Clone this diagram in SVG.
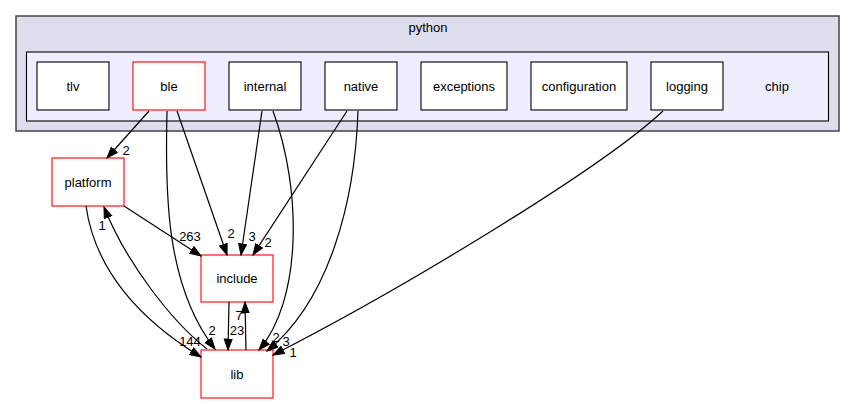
<svg xmlns="http://www.w3.org/2000/svg" width="856" height="404" viewBox="0 0 856 404">
<style>
text{font-family:"Liberation Sans",Arial,sans-serif;font-size:13px;fill:#000;}
.n{text-anchor:middle;}
.l{text-anchor:middle;}
.box{fill:#fff;stroke:#000;stroke-width:1.1;}
.red{fill:#fff;stroke:#ff0000;stroke-width:1.1;}
.e{fill:none;stroke:#000;stroke-width:1.2;marker-end:url(#ah);}
</style>
<defs>
<marker id="ah" markerUnits="userSpaceOnUse" markerWidth="13" markerHeight="10" refX="11.5" refY="4.5" orient="auto">
<path d="M0.5,0.5 L11.5,4.5 L0.5,8.5 z" fill="#000" stroke="#000" stroke-width="1"/>
</marker>
</defs>
<rect width="856" height="404" fill="#fff"/>
<g id="cluster_python">
<rect x="16" y="16" width="823" height="115" fill="#ddddee" stroke="#444" stroke-width="1.5"/>
<text class="n" x="428" y="32">python</text>
</g>
<g id="cluster_chip">
<rect x="26.5" y="52" width="802" height="69" fill="#eeeeff" stroke="#000" stroke-width="1.1"/>
<text class="n" x="777" y="91">chip</text>
</g>
<g id="tlv"><rect class="box" x="37" y="62" width="72" height="48"/><text class="n" x="73" y="91">tlv</text></g>
<g id="ble"><rect class="red" x="133" y="62" width="72" height="48"/><text class="n" x="169" y="91">ble</text></g>
<g id="internal"><rect class="box" x="229" y="62" width="72" height="48"/><text class="n" x="265" y="91">internal</text></g>
<g id="native"><rect class="box" x="325" y="62" width="72" height="48"/><text class="n" x="361" y="91">native</text></g>
<g id="exceptions"><rect class="box" x="421" y="62" width="86" height="48"/><text class="n" x="464" y="91">exceptions</text></g>
<g id="configuration"><rect class="box" x="531" y="62" width="96" height="48"/><text class="n" x="579" y="91">configuration</text></g>
<g id="logging"><rect class="box" x="651" y="62" width="72" height="48"/><text class="n" x="687" y="91">logging</text></g>
<g id="platform"><rect class="red" x="52" y="158" width="72" height="48"/><text class="n" x="88" y="187">platform</text></g>
<g id="include"><rect class="red" x="201" y="255" width="72" height="47"/><text class="n" x="237" y="283">include</text></g>
<g id="lib"><rect class="red" x="201" y="350" width="72" height="48"/><text class="n" x="237" y="379">lib</text></g>
<g id="edges">
<path class="e" d="M149,111 L107,158"/>
<text class="l" x="126" y="155">2</text>
<path class="e" d="M177,111 L227,255"/>
<text class="l" x="231" y="238">2</text>
<path class="e" d="M167,111 C165,190 165,285 215,349"/>
<text class="l" x="212" y="335">2</text>
<path class="e" d="M262,111 L241,255"/>
<text class="l" x="252" y="241">3</text>
<path class="e" d="M273,111 C302,190 302,300 259,350"/>
<text class="l" x="276" y="342">2</text>
<path class="e" d="M347,111 L253,255"/>
<text class="l" x="268" y="247">2</text>
<path class="e" d="M358,111 C355,200 330,300 267,351"/>
<text class="l" x="286" y="346">3</text>
<path class="e" d="M663,111 C600,170 400,290 273,355"/>
<text class="l" x="293" y="357">1</text>
<path class="e" d="M124,206 L201,256"/>
<text class="l" x="190" y="241">263</text>
<path class="e" d="M86,206 C95,270 140,320 201,357"/>
<text class="l" x="190" y="346">144</text>
<path class="e" d="M207,349 C170,320 125,260 104,207"/>
<text class="l" x="102" y="230">1</text>
<path class="e" d="M229,302 L228,350"/>
<text class="l" x="237" y="335">23</text>
<path class="e" d="M246,350 L245,302"/>
<text class="l" x="239" y="320">7</text>
</g>
</svg>
